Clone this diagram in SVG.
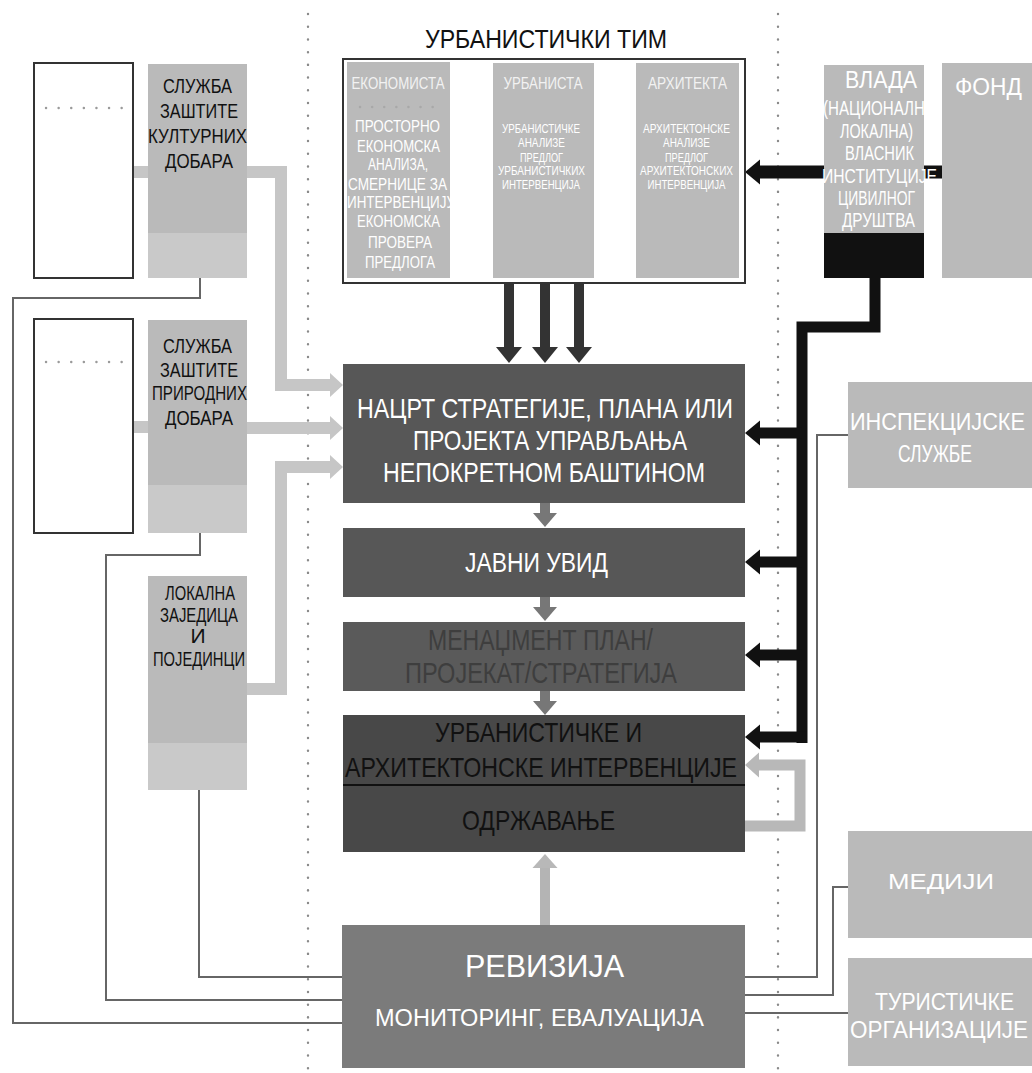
<svg xmlns="http://www.w3.org/2000/svg" width="1032" height="1073" viewBox="0 0 1032 1073">
  <style>
    .t { font-family: "Liberation Sans Narrow", "Liberation Sans", Arial, sans-serif; }
    .c { text-anchor: middle; }
    .w { fill: #ffffff; }
    .k { fill: #111111; }
    .lbox { fill: #bababa; }
    .lbox2 { fill: #c9c9c9; }
    .frame { fill: #ffffff; stroke: #333333; stroke-width: 2; }
    .main { fill: #575757; }
    .dots { stroke: #8a8a8a; stroke-width: 2.4; stroke-linecap: round; stroke-dasharray: 0.1 12.6; fill: none; }
    .thin { stroke: #666666; stroke-width: 2; fill: none; }
    .light { stroke: #c6c6c6; stroke-width: 12; fill: none; }
    .blk { stroke: #111111; stroke-width: 11; fill: none; }
  </style>
  <defs>
    <marker id="hBlack" markerUnits="userSpaceOnUse" viewBox="0 -13 16 26" markerWidth="16" markerHeight="26" refX="0" refY="0" orient="auto">
      <path d="M0,-12.5 L15,0 L0,12.5 Z" fill="#111111"/>
    </marker>
    <marker id="hDark" markerUnits="userSpaceOnUse" viewBox="0 -14 17 28" markerWidth="17" markerHeight="28" refX="0" refY="0" orient="auto">
      <path d="M0,-13 L16,0 L0,13 Z" fill="#333333"/>
    </marker>
    <marker id="hMid" markerUnits="userSpaceOnUse" viewBox="0 -13 15 26" markerWidth="15" markerHeight="26" refX="0" refY="0" orient="auto">
      <path d="M0,-12 L14,0 L0,12 Z" fill="#777777"/>
    </marker>
    <marker id="hLight" markerUnits="userSpaceOnUse" viewBox="0 -13 15 26" markerWidth="15" markerHeight="26" refX="0" refY="0" orient="auto">
      <path d="M0,-12 L13,0 L0,12 Z" fill="#c6c6c6"/>
    </marker>
    <marker id="hLoop" markerUnits="userSpaceOnUse" viewBox="0 -13 15 26" markerWidth="15" markerHeight="26" refX="0" refY="0" orient="auto">
      <path d="M0,-12.5 L14,0 L0,12.5 Z" fill="#b8b8b8"/>
    </marker>
  </defs>

  <rect width="1032" height="1073" fill="#ffffff"/>

  <!-- dotted column separators -->
  <g id="separators">
    <line class="dots" x1="308" y1="14" x2="308" y2="1073"/>
    <line class="dots" x1="778" y1="14" x2="778" y2="1073"/>
  </g>

  <!-- connectors -->
  <g id="connectors">
    <!-- thin feedback lines to the revision box -->
    <polyline class="thin" points="200,278 200,298 13,298 13,1023 342,1023"/>
    <polyline class="thin" points="200,533 200,555 106,555 106,1000 342,1000"/>
    <polyline class="thin" points="199,790 199,977 342,977"/>
    <polyline class="thin" points="848,435 817,435 817,977 745,977"/>
    <polyline class="thin" points="848,887 833,887 833,995 745,995"/>
    <line class="thin" x1="745" y1="1013" x2="848" y2="1013"/>

    <!-- light links between the side frames and services -->
    <line class="light" x1="133" y1="172" x2="148" y2="172"/>
    <line class="light" x1="133" y1="427" x2="148" y2="427"/>

    <!-- light arrows into the draft box -->
    <polyline class="light" points="247,172 281,172 281,385 330,385" marker-end="url(#hLight)"/>
    <line class="light" x1="247" y1="428" x2="330" y2="428" marker-end="url(#hLight)"/>
    <polyline class="light" points="247,689 281,689 281,467 330,467" marker-end="url(#hLight)"/>

    <!-- team outputs -->
    <line stroke="#333333" stroke-width="10" x1="509" y1="283" x2="509" y2="347" marker-end="url(#hDark)"/>
    <line stroke="#333333" stroke-width="10" x1="545" y1="283" x2="545" y2="347" marker-end="url(#hDark)"/>
    <line stroke="#333333" stroke-width="10" x1="579" y1="283" x2="579" y2="347" marker-end="url(#hDark)"/>

    <!-- process flow -->
    <line stroke="#777777" stroke-width="10" x1="545" y1="503" x2="545" y2="513" marker-end="url(#hMid)"/>
    <line stroke="#777777" stroke-width="10" x1="545" y1="597" x2="545" y2="607" marker-end="url(#hMid)"/>
    <line stroke="#777777" stroke-width="10" x1="545" y1="691" x2="545" y2="701" marker-end="url(#hMid)"/>

    <!-- maintenance loop -->
    <polyline stroke="#b8b8b8" stroke-width="11" fill="none" points="745,826 800,826 800,765 759,765" marker-end="url(#hLoop)"/>

    <!-- revision feedback -->
    <line stroke="#b4b4b4" stroke-width="10" x1="545" y1="925" x2="545" y2="868" marker-end="url(#hLoop)"/>

    <!-- government bus -->
    <polyline class="blk" points="875,278 875,327 802,327 802,743"/>
    <line class="blk" x1="802" y1="433" x2="760" y2="433" marker-end="url(#hBlack)"/>
    <line class="blk" x1="802" y1="562" x2="760" y2="562" marker-end="url(#hBlack)"/>
    <line class="blk" x1="802" y1="655" x2="760" y2="655" marker-end="url(#hBlack)"/>
    <line class="blk" x1="807" y1="737" x2="760" y2="737" marker-end="url(#hBlack)"/>
    <line stroke="#111111" stroke-width="13" x1="826" y1="172" x2="760" y2="172" marker-end="url(#hBlack)"/>
    <line stroke="#111111" stroke-width="13" x1="922" y1="172" x2="942" y2="172"/>
  </g>

  <!-- left column -->
  <g id="frame-cultural">
    <rect class="frame" x="34" y="63" width="99" height="215"/>
    <line class="dots" x1="46" y1="108" x2="122" y2="108" style="stroke:#9a9a9a;stroke-dasharray:0.1 12.5"/>
  </g>
  <g id="service-cultural">
    <rect class="lbox" x="148" y="64" width="99" height="214"/>
    <rect class="lbox2" x="148" y="233" width="99" height="45"/>
    <text class="t c k" font-size="21" x="197.5" y="93" textLength="69" lengthAdjust="spacingAndGlyphs">СЛУЖБА</text>
    <text class="t c k" font-size="21" x="199" y="118" textLength="78" lengthAdjust="spacingAndGlyphs">ЗАШТИТЕ</text>
    <text class="t c k" font-size="21" x="197.5" y="143" textLength="99" lengthAdjust="spacingAndGlyphs">КУЛТУРНИХ</text>
    <text class="t c k" font-size="21" x="199" y="168" textLength="68" lengthAdjust="spacingAndGlyphs">ДОБАРА</text>
  </g>

  <g id="frame-natural">
    <rect class="frame" x="34" y="319" width="99" height="214"/>
    <line class="dots" x1="46" y1="362" x2="122" y2="362" style="stroke:#9a9a9a;stroke-dasharray:0.1 12.5"/>
  </g>
  <g id="service-natural">
    <rect class="lbox" x="148" y="320" width="99" height="213"/>
    <rect class="lbox2" x="148" y="485" width="99" height="48"/>
    <text class="t c k" font-size="21" x="197.5" y="353" textLength="69" lengthAdjust="spacingAndGlyphs">СЛУЖБА</text>
    <text class="t c k" font-size="21" x="199" y="377" textLength="78" lengthAdjust="spacingAndGlyphs">ЗАШТИТЕ</text>
    <text class="t c k" font-size="21" x="199.5" y="400" textLength="95" lengthAdjust="spacingAndGlyphs">ПРИРОДНИХ</text>
    <text class="t c k" font-size="21" x="199" y="425" textLength="68" lengthAdjust="spacingAndGlyphs">ДОБАРА</text>
  </g>

  <g id="local-community">
    <rect class="lbox" x="148" y="576" width="99" height="214"/>
    <rect class="lbox2" x="148" y="743" width="99" height="47"/>
    <text class="t c k" font-size="21" x="200" y="600" textLength="70" lengthAdjust="spacingAndGlyphs">ЛОКАЛНА</text>
    <text class="t c k" font-size="21" x="199" y="622" textLength="78" lengthAdjust="spacingAndGlyphs">ЗАЈЕДИЦА</text>
    <text class="t c k" font-size="21" x="198" y="643">И</text>
    <text class="t c k" font-size="21" x="199" y="666" textLength="92" lengthAdjust="spacingAndGlyphs">ПОЈЕДИНЦИ</text>
  </g>

  <!-- planning team -->
  <g id="team">
    <text class="t c k" font-size="25" x="546" y="48" textLength="242" lengthAdjust="spacingAndGlyphs">УРБАНИСТИЧКИ ТИМ</text>
    <rect class="frame" x="343" y="59" width="402" height="224"/>
  </g>
  <g id="economist">
    <rect class="lbox" x="347" y="62" width="103" height="216"/>
    <line class="dots" x1="360" y1="107" x2="440" y2="107" style="stroke:#a8a8a8;stroke-dasharray:0.1 12"/>
    <text class="t c" fill="#f2f2f2" font-size="17" x="398" y="89" textLength="93" lengthAdjust="spacingAndGlyphs">ЕКОНОМИСТА</text>
    <text class="t c w" font-size="16" x="397.5" y="132" textLength="85" lengthAdjust="spacingAndGlyphs">ПРОСТОРНО</text>
    <text class="t c w" font-size="16" x="398.5" y="152" textLength="83" lengthAdjust="spacingAndGlyphs">ЕКОНОМСКА</text>
    <text class="t c w" font-size="16" x="398" y="170" textLength="60" lengthAdjust="spacingAndGlyphs">АНАЛИЗА,</text>
    <text class="t c w" font-size="16" x="397.5" y="190" textLength="99" lengthAdjust="spacingAndGlyphs">СМЕРНИЦЕ ЗА</text>
    <text class="t w" font-size="16" x="347" y="208" textLength="108" lengthAdjust="spacingAndGlyphs">ИНТЕРВЕНЦИЈУ</text>
    <text class="t c w" font-size="16" x="398.5" y="227" textLength="83" lengthAdjust="spacingAndGlyphs">ЕКОНОМСКА</text>
    <text class="t c w" font-size="16" x="400" y="248" textLength="64" lengthAdjust="spacingAndGlyphs">ПРОВЕРА</text>
    <text class="t c w" font-size="16" x="400" y="268" textLength="70" lengthAdjust="spacingAndGlyphs">ПРЕДЛОГА</text>
  </g>
  <g id="urbanist">
    <rect class="lbox" x="493" y="63" width="101" height="215"/>
    <text class="t c" fill="#f2f2f2" font-size="17" x="543" y="89" textLength="79" lengthAdjust="spacingAndGlyphs">УРБАНИСТА</text>
    <text class="t c w" font-size="12" x="541" y="133" textLength="78" lengthAdjust="spacingAndGlyphs">УРБАНИСТИЧКЕ</text>
    <text class="t c w" font-size="12" x="541.5" y="147" textLength="47" lengthAdjust="spacingAndGlyphs">АНАЛИЗЕ</text>
    <text class="t c w" font-size="12" x="541.5" y="162" textLength="43" lengthAdjust="spacingAndGlyphs">ПРЕДЛОГ</text>
    <text class="t c w" font-size="12" x="541.5" y="175" textLength="87" lengthAdjust="spacingAndGlyphs">УРБАНИСТИЧКИХ</text>
    <text class="t c w" font-size="12" x="541" y="189" textLength="78" lengthAdjust="spacingAndGlyphs">ИНТЕРВЕНЦИЈА</text>
  </g>
  <g id="architect">
    <rect class="lbox" x="636" y="63" width="103" height="215"/>
    <text class="t c" fill="#f2f2f2" font-size="17" x="687.5" y="89" textLength="79" lengthAdjust="spacingAndGlyphs">АРХИТЕКТА</text>
    <text class="t c w" font-size="12" x="686.5" y="133" textLength="87" lengthAdjust="spacingAndGlyphs">АРХИТЕКТОНСКЕ</text>
    <text class="t c w" font-size="12" x="686.5" y="147" textLength="47" lengthAdjust="spacingAndGlyphs">АНАЛИЗЕ</text>
    <text class="t c w" font-size="12" x="686.5" y="162" textLength="43" lengthAdjust="spacingAndGlyphs">ПРЕДЛОГ</text>
    <text class="t c w" font-size="12" x="686.5" y="175" textLength="93" lengthAdjust="spacingAndGlyphs">АРХИТЕКТОНСКИХ</text>
    <text class="t c w" font-size="12" x="686.5" y="189" textLength="78" lengthAdjust="spacingAndGlyphs">ИНТЕРВЕНЦИЈА</text>
  </g>

  <!-- process column -->
  <g id="draft">
    <rect class="main" x="343" y="364" width="402" height="139"/>
    <text class="t c w" font-size="28" x="545" y="418" textLength="376" lengthAdjust="spacingAndGlyphs">НАЦРТ СТРАТЕГИЈЕ, ПЛАНА ИЛИ</text>
    <text class="t c w" font-size="28" x="550" y="450" textLength="274" lengthAdjust="spacingAndGlyphs">ПРОЈЕКТА УПРАВЉАЊА</text>
    <text class="t c w" font-size="28" x="544" y="482" textLength="322" lengthAdjust="spacingAndGlyphs">НЕПОКРЕТНОМ БАШТИНОМ</text>
  </g>
  <g id="public-review">
    <rect class="main" x="343" y="528" width="402" height="69"/>
    <text class="t c w" font-size="28" x="536.5" y="572" textLength="143" lengthAdjust="spacingAndGlyphs">ЈАВНИ УВИД</text>
  </g>
  <g id="management-plan">
    <rect x="343" y="622" width="402" height="69" fill="#5a5a5a"/>
    <text class="t c" fill="#3e3e3e" font-size="29" x="540.5" y="650" textLength="225" lengthAdjust="spacingAndGlyphs">МЕНАЏМЕНТ ПЛАН/</text>
    <text class="t c" fill="#3e3e3e" font-size="29" x="541" y="683" textLength="272" lengthAdjust="spacingAndGlyphs">ПРОЈЕКАТ/СТРАТЕГИЈА</text>
  </g>
  <g id="interventions">
    <rect x="343" y="715" width="402" height="137" fill="#484848"/>
    <line x1="343" y1="785" x2="745" y2="785" stroke="#111111" stroke-width="2"/>
    <text class="t c k" font-size="28" x="538.5" y="742" textLength="207" lengthAdjust="spacingAndGlyphs">УРБАНИСТИЧКЕ И</text>
    <text class="t c k" font-size="28" x="541" y="777" textLength="392" lengthAdjust="spacingAndGlyphs">АРХИТЕКТОНСКЕ ИНТЕРВЕНЦИЈЕ</text>
    <text class="t c k" font-size="28" x="538.5" y="830" textLength="153" lengthAdjust="spacingAndGlyphs">ОДРЖАВАЊЕ</text>
  </g>
  <g id="revision">
    <rect x="342" y="925" width="403" height="143" fill="#7b7b7b"/>
    <text class="t c w" font-size="32" x="544.5" y="977" textLength="159" lengthAdjust="spacingAndGlyphs">РЕВИЗИЈА</text>
    <text class="t c w" font-size="23" x="539.5" y="1026" textLength="329" lengthAdjust="spacingAndGlyphs">МОНИТОРИНГ, ЕВАЛУАЦИЈА</text>
  </g>

  <!-- right column -->
  <g id="government">
    <rect class="lbox" x="824" y="65" width="100" height="168"/>
    <rect x="824" y="233" width="100" height="45" fill="#111111"/>
    <text class="t c w" font-size="24" x="881" y="88" textLength="72" lengthAdjust="spacingAndGlyphs">ВЛАДА</text>
    <text class="t w" font-size="20" x="823" y="115" textLength="112" lengthAdjust="spacingAndGlyphs">(НАЦИОНАЛНА</text>
    <text class="t c w" font-size="20" x="876.5" y="138" textLength="73" lengthAdjust="spacingAndGlyphs">ЛОКАЛНА)</text>
    <text class="t c w" font-size="20" x="879.5" y="160" textLength="69" lengthAdjust="spacingAndGlyphs">ВЛАСНИК</text>
    <text class="t w" font-size="20" x="822" y="183" textLength="115" lengthAdjust="spacingAndGlyphs">ИНСТИТУЦИЈЕ</text>
    <text class="t c w" font-size="20" x="876.5" y="205" textLength="77" lengthAdjust="spacingAndGlyphs">ЦИВИЛНОГ</text>
    <text class="t c w" font-size="20" x="878.5" y="227" textLength="73" lengthAdjust="spacingAndGlyphs">ДРУШТВА</text>
  </g>
  <g id="fund">
    <rect class="lbox" x="942" y="63" width="90" height="215"/>
    <text class="t c w" font-size="24" x="988.5" y="95" textLength="67" lengthAdjust="spacingAndGlyphs">ФОНД</text>
  </g>
  <g id="inspection">
    <rect class="lbox" x="848" y="382" width="184" height="106"/>
    <text class="t w" font-size="24" x="850" y="430" textLength="175" lengthAdjust="spacingAndGlyphs">ИНСПЕКЦИЈСКЕ</text>
    <text class="t c w" font-size="24" x="935" y="462" textLength="74" lengthAdjust="spacingAndGlyphs">СЛУЖБЕ</text>
  </g>
  <g id="media">
    <rect class="lbox" x="848" y="831" width="184" height="107"/>
    <text class="t c w" font-size="22" x="941" y="889" textLength="106" lengthAdjust="spacingAndGlyphs">МЕДИЈИ</text>
  </g>
  <g id="tourism">
    <rect class="lbox" x="848" y="958" width="184" height="108"/>
    <text class="t c w" font-size="23" x="944.5" y="1010" textLength="139" lengthAdjust="spacingAndGlyphs">ТУРИСТИЧКЕ</text>
    <text class="t w" font-size="23" x="850" y="1038" textLength="178" lengthAdjust="spacingAndGlyphs">ОРГАНИЗАЦИЈЕ</text>
  </g>
</svg>
